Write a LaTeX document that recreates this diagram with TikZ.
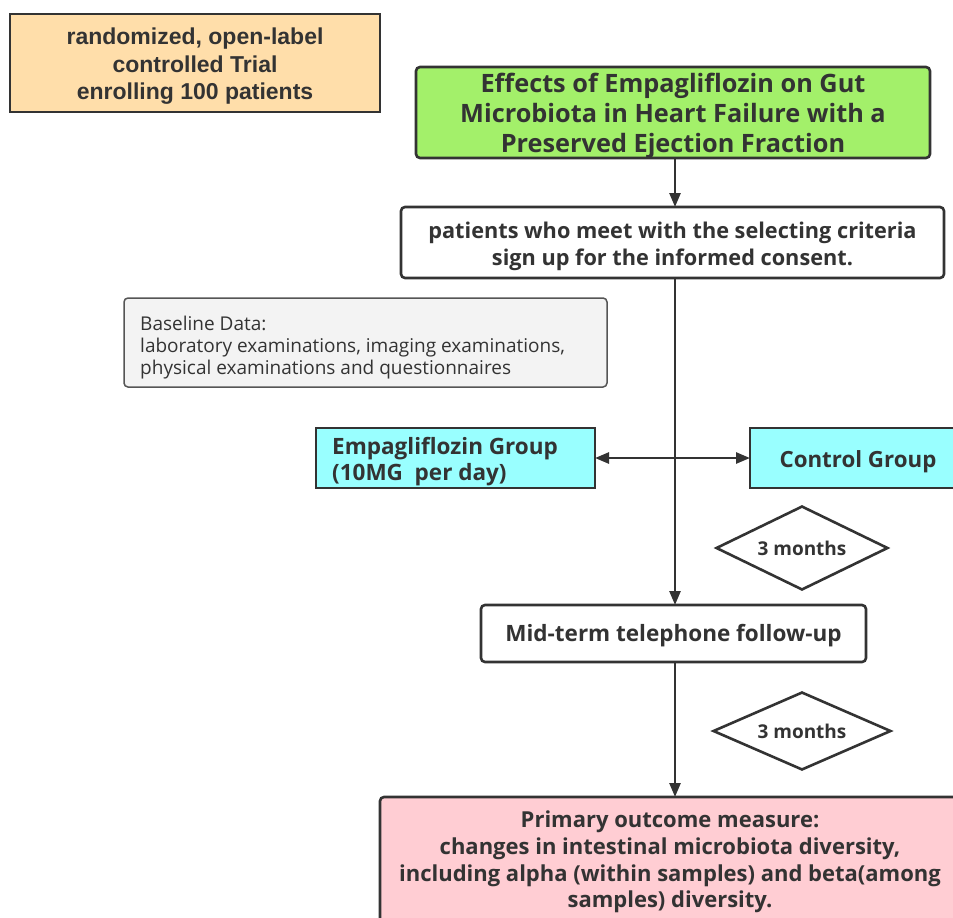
\documentclass[tikz,border=0pt]{standalone}
\usepackage{fontspec}
\setmainfont{Open Sans}
\newfontfamily\arialf{Liberation Sans}
\usetikzlibrary{shapes.geometric,arrows.meta}
\definecolor{dk}{HTML}{333333}
\definecolor{orangef}{HTML}{FFDEAA}
\definecolor{greenf}{HTML}{A3F06A}
\definecolor{cyanf}{HTML}{99FFFF}
\definecolor{pinkf}{HTML}{FFCDD3}
\definecolor{grayf}{HTML}{F3F3F3}
\definecolor{grayd}{HTML}{555555}
\tikzset{
  box/.style={draw=dk, line width=2.6pt, inner sep=0pt, outer sep=0pt},
  rbox/.style={box, rounded corners=4pt},
  lbl/.style={text=dk, inner sep=0pt, align=center, font=\bfseries\fontsize{21.7}{27}\selectfont},
  dia/.style={diamond, draw=dk, line width=2.6pt, aspect=2.05, inner sep=0pt, font=\bfseries\fontsize{19}{22}\selectfont, text=dk},
  conn/.style={draw=dk, line width=2.6pt, -{Triangle[length=14pt,width=11pt]}},
}
\begin{document}
\begin{tikzpicture}[x=1pt,y=-1pt]
\useasboundingbox (0,0) rectangle (953,918);
\clip (0,0) rectangle (953,918);
\fill[white] (0,0) rectangle (953,918);
% orange
\node[box, fill=orangef, minimum width=370pt, minimum height=98pt] (trial) at (195,63) {};
\node[lbl, font=\arialf\bfseries\fontsize{23}{27.5}\selectfont] (trialtxt) at ([yshift=-3.5pt]trial.center) {randomized, open-label\\controlled Trial\\enrolling 100 patients};
% green title
\node[rbox, fill=greenf, minimum width=514pt, minimum height=91pt] (title) at (673,112.5) {};
\node[lbl, font=\bfseries\fontsize{25.3}{30}\selectfont] (titletxt) at ([yshift=-3.5pt]title.center) {Effects of Empagliflozin on Gut\\Microbiota in Heart Failure with a\\Preserved Ejection Fraction};
% patients
\node[rbox, fill=white, minimum width=543pt, minimum height=71pt] (pat) at (672.5,242.5) {};
\node[lbl] (pattxt) at ([yshift=-4pt]pat.center) {patients who meet with the selecting criteria\\sign up for the informed consent.};
% baseline
\node[draw=grayd, line width=1.5pt, rounded corners=4pt, fill=grayf, minimum width=483pt, minimum height=89pt, inner sep=0pt] (base) at (365.5,342.5) {};
\node[anchor=west, align=left, text=dk, font=\fontsize{19}{22}\selectfont, inner sep=0pt] (basetxt) at (140,347.5) {Baseline Data:\\laboratory examinations, imaging examinations,\\physical examinations and questionnaires};
% groups
\node[box, fill=cyanf, minimum width=279pt, minimum height=60pt] (emp) at (455.5,458) {};
\node[anchor=west, align=left, text=dk, font=\bfseries\fontsize{22.5}{26}\selectfont, inner sep=0pt] (emptxt) at (332,462) {Empagliflozin Group\\(10MG~ per day)};
\node[box, fill=cyanf, minimum width=230pt, minimum height=60pt, anchor=west] (ctrl) at (750,458) {};
\node[lbl, font=\bfseries\fontsize{22.3}{24}\selectfont] (ctrltxt) at (858,462) {Control Group};
% mid-term
\node[rbox, fill=white, minimum width=385pt, minimum height=57pt] (mid) at (673.5,633.5) {};
\node[lbl, font=\bfseries\fontsize{22.5}{27}\selectfont] (midtxt) at ([yshift=-2.5pt]mid.center) {Mid-term telephone follow-up};
% diamonds
\node[dia, minimum width=172pt, minimum height=84pt] (d1) at (802,548) {3 months};
\node[dia, minimum width=178pt, minimum height=78pt] (d2) at (802,731) {3 months};
% pink
\node[rbox, fill=pinkf, minimum width=600pt, minimum height=140pt, anchor=north west] (out) at (380,797) {};
\node[lbl, font=\bfseries\fontsize{22}{26.6}\selectfont] (outtxt) at (670,862) {Primary outcome measure:\\changes in intestinal microbiota diversity,\\including alpha (within samples) and beta(among\\samples) diversity.};
% connectors
\draw[conn] (title.south -| 675,0) -- (pat.north -| 675,0);
\draw[conn] (pat.south -| 675,0) -- (mid.north -| 675,0);
\draw[conn] (mid.south -| 675,0) -- (out.north -| 675,0);
\draw[draw=dk, line width=2.6pt, {Triangle[length=14pt,width=11pt]}-{Triangle[length=14pt,width=11pt]}] (emp.east) -- (ctrl.west);
\end{tikzpicture}
\end{document}
